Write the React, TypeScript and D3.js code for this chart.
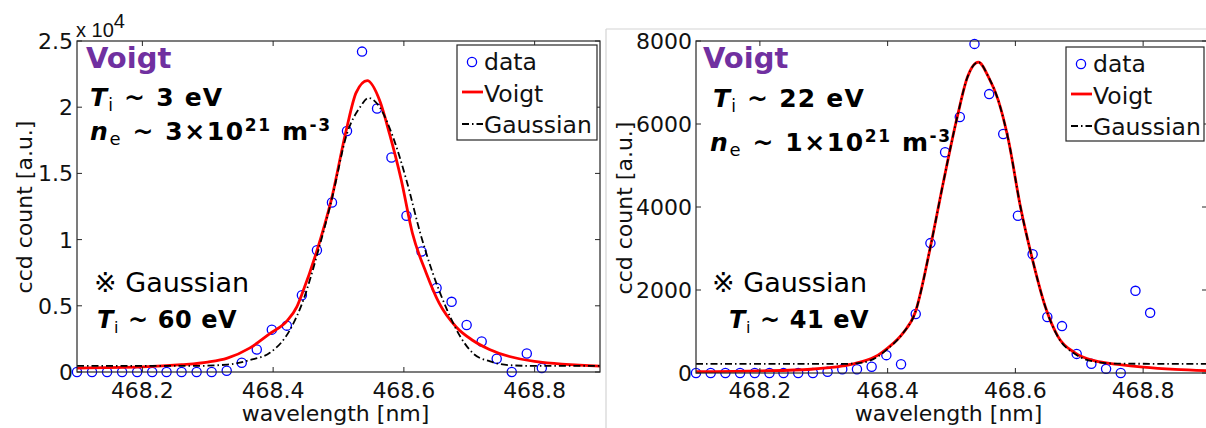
import React from "react";
import * as d3 from "d3";

// measured wavelengths of the spectrometer pixels [nm]
const wavelength = [
  468.1, 468.123, 468.146, 468.169, 468.192, 468.215, 468.237, 468.26, 468.283, 468.306, 468.329,
  468.352, 468.375, 468.398, 468.421, 468.444, 468.467, 468.49, 468.513, 468.536, 468.559, 468.581,
  468.604, 468.627, 468.65, 468.673, 468.696, 468.719, 468.742, 468.765, 468.788, 468.811,
];

// ccd counts, left shot
const leftCounts = [
  0, 0, 0, 0, 0, 0, 0, 0, 0, 0, 100, 700, 1700, 3200, 3500, 5800, 9200, 12800, 18200, 24200, 19900,
  16200, 11800, 9100, 6350, 5300, 3550, 2300, 1000, 0, 1400, 300,
];

// ccd counts, right shot
const rightCounts = [
  0, 0, 0, 0, 0, 0, 0, 0, 0, 30, 90, 90, 150, 430, 210, 1420, 3130, 5320, 6170, 7930, 6720, 5760,
  3790, 2860, 1350, 1130, 460, 220, 100, 0, 1980, 1450,
];

// fitted profiles: [wavelength, counts]
const leftVoigt: [number, number][] = [
  [468.1, 300], [468.2, 380], [468.26, 550], [468.3, 750], [468.33, 1050], [468.364, 1800],
  [468.395, 2900], [468.422, 3900], [468.436, 4900], [468.445, 6000], [468.466, 9000],
  [468.489, 13000], [468.512, 18300], [468.527, 21100], [468.544, 22000], [468.563, 20500],
  [468.578, 18000], [468.596, 14500], [468.613, 10500], [468.634, 7500], [468.654, 5200],
  [468.68, 3400], [468.705, 2400], [468.731, 1700], [468.8, 800], [468.9, 450],
];
const leftGauss: [number, number][] = [
  [468.1, 460], [468.28, 460], [468.33, 560], [468.364, 900], [468.395, 1450], [468.426, 3200],
  [468.446, 5400], [468.467, 8800], [468.49, 13100], [468.513, 18000], [468.533, 20000],
  [468.546, 20700], [468.563, 20000], [468.583, 17800], [468.605, 14300], [468.625, 10500],
  [468.644, 7500], [468.666, 4700], [468.686, 2700], [468.706, 1400], [468.732, 800],
  [468.76, 520], [468.8, 460], [468.9, 460],
];
const rightVoigt: [number, number][] = [
  [468.1, 30], [468.2, 50], [468.28, 90], [468.33, 170], [468.357, 260], [468.385, 430],
  [468.4, 600], [468.424, 960], [468.443, 1450], [468.467, 3040], [468.487, 4580],
  [468.509, 6170], [468.525, 7130], [468.542, 7490], [468.558, 7130], [468.573, 6580],
  [468.589, 5620], [468.608, 4000], [468.627, 2720], [468.647, 1590], [468.667, 870],
  [468.694, 480], [468.725, 290], [468.76, 210], [468.8, 140], [468.85, 85], [468.9, 55],
];
const rightGauss: [number, number][] = [
  [468.1, 220], [468.33, 220], [468.36, 250], [468.385, 400], [468.4, 580], [468.424, 960],
  [468.443, 1450], [468.467, 3040], [468.487, 4580], [468.509, 6170], [468.525, 7130],
  [468.542, 7490], [468.558, 7130], [468.573, 6580], [468.589, 5620], [468.608, 4000],
  [468.627, 2720], [468.647, 1590], [468.667, 860], [468.694, 450], [468.725, 270],
  [468.76, 225], [468.9, 220],
];

const xTicks = [468.2, 468.4, 468.6, 468.8];
const leftYTicks = [0, 5000, 10000, 15000, 20000, 25000];
const leftYTickText = ["0", "0.5", "1", "1.5", "2", "2.5"];
const rightYTicks = [0, 2000, 4000, 6000, 8000];
const rightYTickText = ["0", "2000", "4000", "6000", "8000"];
const legendItems = ["data", "Voigt", "Gaussian"];

const FONT = "'DejaVu Sans', sans-serif";
const AXIS = "#262626";

function Panel(p: any) {
  const x = d3.scaleLinear().domain([468.1, 468.9]).range([p.left, p.right]);
  const y = d3.scaleLinear().domain([0, p.yMax]).range([p.bottom, p.top]);
  const line = d3
    .line<[number, number]>()
    .x((d) => x(d[0]))
    .y((d) => y(d[1]))
    .curve(d3.curveMonotoneX);
  const tick = 5;
  const lg = p.legend;

  return (
    <g>
      <defs>
        <clipPath id={"clip" + p.id}>
          <rect x={p.left} y={p.top} width={p.right - p.left} height={p.bottom - p.top} />
        </clipPath>
      </defs>

      {/* data, Voigt, Gaussian in Matlab plot order */}
      {wavelength.map((w, i) => (
        <circle key={i} cx={x(w)} cy={y(p.counts[i])} r={4.6} fill="none" stroke="#0000ff" strokeWidth={1.3} />
      ))}
      <g clipPath={`url(#clip${p.id})`}>
        <path d={line(p.voigt) || ""} fill="none" stroke="#ff0000" strokeWidth={2.8} />
        <path d={line(p.gauss) || ""} fill="none" stroke="#000" strokeWidth={1.8} strokeDasharray="7 3 1.5 3" />
      </g>

      {/* frame and inward ticks */}
      <rect x={p.left} y={p.top} width={p.right - p.left} height={p.bottom - p.top} fill="none" stroke={AXIS} strokeWidth={1.2} />
      {xTicks.map((t) => (
        <g key={t}>
          <line x1={x(t)} x2={x(t)} y1={p.bottom} y2={p.bottom - tick} stroke={AXIS} />
          <line x1={x(t)} x2={x(t)} y1={p.top} y2={p.top + tick} stroke={AXIS} />
          <text x={x(t)} y={398} textAnchor="middle" fontSize={22} fontFamily={FONT} fill="#111">
            {t.toFixed(1)}
          </text>
        </g>
      ))}
      {p.yTicks.map((t: number, i: number) => (
        <g key={t}>
          <line x1={p.left} x2={p.left + tick} y1={y(t)} y2={y(t)} stroke={AXIS} />
          <line x1={p.right} x2={p.right - tick} y1={y(t)} y2={y(t)} stroke={AXIS} />
          <text x={p.left - 4} y={y(t) + 8} textAnchor="end" fontSize={22} fontFamily={FONT} fill="#111">
            {p.yTickText[i]}
          </text>
        </g>
      ))}

      <text x={(p.left + p.right) / 2 - 3} y={421} textAnchor="middle" fontSize={22} fontFamily={FONT} fill="#111">
        wavelength [nm]
      </text>
      <text
        transform={`translate(${p.yLabelX},${p.yLabelY}) rotate(-90)`}
        textAnchor="middle"
        fontSize={22}
        fontFamily={FONT}
        fill="#111"
      >
        ccd count [a.u.]
      </text>

      {/* legend */}
      <rect x={lg.x} y={lg.y} width={lg.w} height={lg.h} fill="#fff" stroke={AXIS} strokeWidth={1.2} />
      <circle cx={lg.x + 15} cy={lg.y + 17} r={4.6} fill="none" stroke="#0000ff" strokeWidth={1.3} />
      <line x1={lg.x + 5} x2={lg.x + 26} y1={lg.y + 47} y2={lg.y + 47} stroke="#ff0000" strokeWidth={2.8} />
      <line x1={lg.x + 5} x2={lg.x + 26} y1={lg.y + 79} y2={lg.y + 79} stroke="#000" strokeWidth={1.8} strokeDasharray="7 3 1.5 3" />
      {legendItems.map((s, i) => (
        <text key={s} x={lg.x + 27} y={lg.y + 25 + i * 31.5} fontSize={23.5} fontFamily={FONT} fill="#111">
          {s}
        </text>
      ))}

      {/* annotations */}
      <text x={p.voigtX} y={68} fontSize={29} fontWeight="bold" fontFamily={FONT} fill="#7030a0">
        Voigt
      </text>
      <text x={p.tiX} y={p.tiY} fontSize={25} fontWeight="bold" fontFamily={FONT} fill="#000" letterSpacing={1.2}>
        <tspan fontStyle="italic">T</tspan>
        <tspan fontSize={17} fontWeight="normal" dy={5}>i</tspan>
        <tspan dy={-5}>{` ~ ${p.ti} eV`}</tspan>
      </text>
      <text x={p.neX} y={p.neY} fontSize={25} fontWeight="bold" fontFamily={FONT} fill="#000" letterSpacing={1.6}>
        <tspan fontStyle="italic">n</tspan>
        <tspan fontSize={18} fontWeight="normal" dy={5}>e</tspan>
        <tspan dy={-5}>{` ~ ${p.ne}×10`}</tspan>
        <tspan fontSize={17} dy={-9}>21</tspan>
        <tspan dy={9}> m</tspan>
        <tspan fontSize={17} dy={-9}>-3</tspan>
      </text>
      <text x={p.gX} y={292} fontSize={27} fontFamily={FONT} fill="#000">
        ※ Gaussian
      </text>
      <text x={p.g2X} y={328} fontSize={24} fontWeight="bold" fontFamily={FONT} fill="#000" letterSpacing={0.6}>
        <tspan fontStyle="italic">T</tspan>
        <tspan fontSize={16} fontWeight="normal" dy={5}>i</tspan>
        <tspan dy={-5}>{` ~ ${p.tiG} eV`}</tspan>
      </text>
    </g>
  );
}

export default function App() {
  return (
    <svg width={1206} height={428} style={{ position: "absolute", left: 0, top: 0, background: "#fff" }}>
      <rect width={1206} height={428} fill="#fff" />
      {/* right panel border of the pasted figure */}
      <line x1={606} x2={606} y1={29} y2={428} stroke="#d4d4d4" strokeWidth={1.2} />
      <line x1={606} x2={1206} y1={29} y2={29} stroke="#d4d4d4" strokeWidth={1.2} />

      <Panel
        id="L"
        left={77}
        right={600}
        top={41}
        bottom={372}
        yMax={25000}
        counts={leftCounts}
        voigt={leftVoigt}
        gauss={leftGauss}
        yTicks={leftYTicks}
        yTickText={leftYTickText}
        yLabelX={32}
        yLabelY={207}
        legend={{ x: 457, y: 45, w: 140, h: 95 }}
        voigtX={86}
        tiX={90}
        tiY={106}
        ti="3"
        neX={90}
        neY={140}
        ne="3"
        gX={94}
        g2X={97}
        tiG="60"
      />
      {/* x 10^4 multiplier */}
      <text x={76} y={37} fontSize={20} fontFamily="'Liberation Sans', Arial, sans-serif" fill="#111">
        x 10
        <tspan dy={-9}>4</tspan>
      </text>

      <Panel
        id="R"
        left={696}
        right={1207}
        top={41}
        bottom={373}
        yMax={8000}
        counts={rightCounts}
        voigt={rightVoigt}
        gauss={rightGauss}
        yTicks={rightYTicks}
        yTickText={rightYTickText}
        yLabelX={632}
        yLabelY={208}
        legend={{ x: 1066, y: 47, w: 138, h: 94 }}
        voigtX={703}
        tiX={713}
        tiY={107}
        ti="22"
        neX={710}
        neY={151}
        ne="1"
        gX={712}
        g2X={729}
        tiG="41"
      />
    </svg>
  );
}
